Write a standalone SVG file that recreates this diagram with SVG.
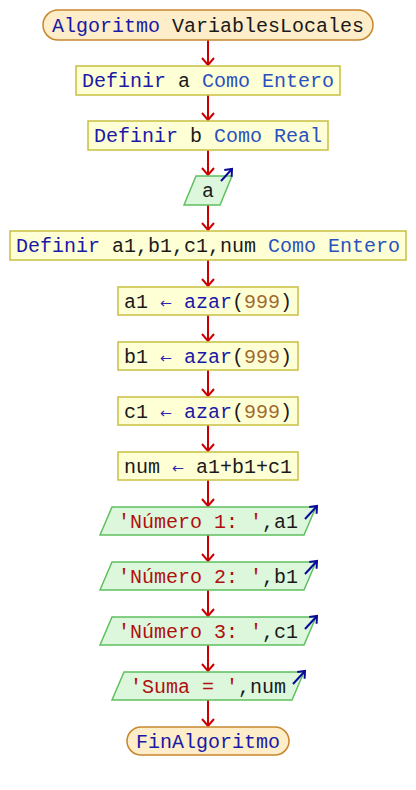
<svg xmlns="http://www.w3.org/2000/svg" width="416" height="790" viewBox="0 0 416 790">
<style>
text{font-family:"Liberation Mono","Courier New",monospace;font-size:20px;text-anchor:middle}
.term{fill:#fdedc9;stroke:#c8862c;stroke-width:1.5}
.proc{fill:#ffffd6;stroke:#c8c040;stroke-width:1.5}
.io{fill:#dcf7dc;stroke:#5fc05f;stroke-width:1.5}
.kw{fill:#1a1aa6}
.ty{fill:#2a52be}
.id{fill:#1a1a1a}
.num{fill:#a06a30}
.str{fill:#b01010}
.op{fill:#2a2ab0;font-family:"DejaVu Sans",sans-serif;font-size:14.3px}
.edge{stroke:#cc0000;stroke-width:2;fill:none}
.ioarr{stroke:#0a0a9a;stroke-width:2;fill:none}
</style>
<defs>
<marker id="ah" markerUnits="userSpaceOnUse" markerWidth="20" markerHeight="20" orient="auto" overflow="visible">
<path d="M-7,-6 L0,0 L-7,6" fill="none" stroke="#cc0000" stroke-width="2"/>
</marker>
<marker id="bh" markerUnits="userSpaceOnUse" markerWidth="20" markerHeight="20" orient="auto" overflow="visible">
<path d="M-6,-5 L0,0 L-6,5" fill="none" stroke="#0a0a9a" stroke-width="2"/>
</marker>
</defs>
<g id="connectors">
<line class="edge" x1="208" y1="40" x2="208" y2="65" marker-end="url(#ah)"/>
<line class="edge" x1="208" y1="95" x2="208" y2="120" marker-end="url(#ah)"/>
<line class="edge" x1="208" y1="150" x2="208" y2="175" marker-end="url(#ah)"/>
<line class="edge" x1="208" y1="205" x2="208" y2="230" marker-end="url(#ah)"/>
<line class="edge" x1="208" y1="260" x2="208" y2="286" marker-end="url(#ah)"/>
<line class="edge" x1="208" y1="315" x2="208" y2="341" marker-end="url(#ah)"/>
<line class="edge" x1="208" y1="370" x2="208" y2="396" marker-end="url(#ah)"/>
<line class="edge" x1="208" y1="425" x2="208" y2="451" marker-end="url(#ah)"/>
<line class="edge" x1="208" y1="480" x2="208" y2="506" marker-end="url(#ah)"/>
<line class="edge" x1="208" y1="535" x2="208" y2="561" marker-end="url(#ah)"/>
<line class="edge" x1="208" y1="590" x2="208" y2="616" marker-end="url(#ah)"/>
<line class="edge" x1="208" y1="645" x2="208" y2="671" marker-end="url(#ah)"/>
<line class="edge" x1="208" y1="700" x2="208" y2="726" marker-end="url(#ah)"/>
</g>
<g id="start">
<rect class="term" x="43" y="10" width="330" height="30" rx="15"/>
<text x="208" y="32"><tspan class="kw">Algoritmo</tspan><tspan class="id"> VariablesLocales</tspan></text>
</g>
<g id="def_a">
<rect class="proc" x="76" y="66" width="264" height="29"/>
<text x="208" y="87"><tspan class="kw">Definir</tspan><tspan class="id"> a </tspan><tspan class="ty">Como Entero</tspan></text>
</g>
<g id="def_b">
<rect class="proc" x="88" y="121" width="240" height="29"/>
<text x="208" y="142"><tspan class="kw">Definir</tspan><tspan class="id"> b </tspan><tspan class="ty">Como Real</tspan></text>
</g>
<g id="read_a">
<polygon class="io" points="196,176 232,176 220,205 184,205"/>
<text x="208" y="197"><tspan class="id">a</tspan></text>
<line class="ioarr" x1="221" y1="181" x2="232" y2="169" marker-end="url(#bh)"/>
</g>
<g id="def_vars">
<rect class="proc" x="10" y="231" width="396" height="29"/>
<text x="208" y="252"><tspan class="kw">Definir</tspan><tspan class="id"> a1,b1,c1,num </tspan><tspan class="ty">Como Entero</tspan></text>
</g>
<g id="assign_a1">
<rect class="proc" x="118" y="287" width="180" height="28"/>
<text x="208" y="308"><tspan class="id">a1 </tspan><tspan class="op">←</tspan><tspan class="kw"> azar</tspan><tspan class="id">(</tspan><tspan class="num">999</tspan><tspan class="id">)</tspan></text>
</g>
<g id="assign_b1">
<rect class="proc" x="118" y="342" width="180" height="28"/>
<text x="208" y="363"><tspan class="id">b1 </tspan><tspan class="op">←</tspan><tspan class="kw"> azar</tspan><tspan class="id">(</tspan><tspan class="num">999</tspan><tspan class="id">)</tspan></text>
</g>
<g id="assign_c1">
<rect class="proc" x="118" y="397" width="180" height="28"/>
<text x="208" y="418"><tspan class="id">c1 </tspan><tspan class="op">←</tspan><tspan class="kw"> azar</tspan><tspan class="id">(</tspan><tspan class="num">999</tspan><tspan class="id">)</tspan></text>
</g>
<g id="assign_num">
<rect class="proc" x="118" y="452" width="180" height="28"/>
<text x="208" y="473"><tspan class="id">num </tspan><tspan class="op">←</tspan><tspan class="id"> a1+b1+c1</tspan></text>
</g>
<g id="write_a1">
<polygon class="io" points="112,507 316,507 304,535 100,535"/>
<text x="208" y="528"><tspan class="str">'Número 1: '</tspan><tspan class="id">,a1</tspan></text>
<line class="ioarr" x1="305" y1="519" x2="317" y2="506" marker-end="url(#bh)"/>
</g>
<g id="write_b1">
<polygon class="io" points="112,562 316,562 304,590 100,590"/>
<text x="208" y="583"><tspan class="str">'Número 2: '</tspan><tspan class="id">,b1</tspan></text>
<line class="ioarr" x1="305" y1="574" x2="317" y2="561" marker-end="url(#bh)"/>
</g>
<g id="write_c1">
<polygon class="io" points="112,617 316,617 304,645 100,645"/>
<text x="208" y="638"><tspan class="str">'Número 3: '</tspan><tspan class="id">,c1</tspan></text>
<line class="ioarr" x1="305" y1="629" x2="317" y2="616" marker-end="url(#bh)"/>
</g>
<g id="write_sum">
<polygon class="io" points="124,672 304,672 292,700 112,700"/>
<text x="208" y="693"><tspan class="str">'Suma = '</tspan><tspan class="id">,num</tspan></text>
<line class="ioarr" x1="293" y1="684" x2="305" y2="671" marker-end="url(#bh)"/>
</g>
<g id="end">
<rect class="term" x="127" y="727" width="162" height="28" rx="14"/>
<text x="208" y="748"><tspan class="kw">FinAlgoritmo</tspan></text>
</g>
</svg>
